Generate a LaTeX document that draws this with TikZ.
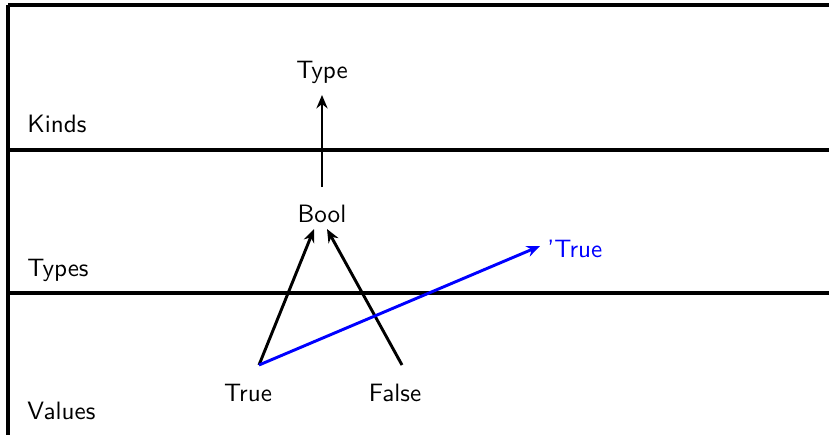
\documentclass[tikz,border=0pt]{standalone}
\usetikzlibrary{arrows.meta}
\begin{document}
\begin{tikzpicture}[x=0.41pt,y=-0.41pt,
  txt/.style={font=\sffamily\fontsize{10.3}{12}\selectfont, inner sep=0pt},
  lbl/.style={txt, anchor=base west},
  ctr/.style={txt, anchor=base},
  band/.style={line width=1.3pt},
  arr/.style={line width=1.2pt, -{Stealth[length=5.5pt,width=4.6pt,inset=1.8pt]}}]
\useasboundingbox (0,0) rectangle (829,434);
\clip (0,0) rectangle (829,434);
% frame and bands
\draw[band] (8,5) -- (840,5);
\draw[band] (8,5) -- (8,445);
\draw[band] (8,150) -- (840,150);
\draw[band] (8,293) -- (840,293);
% layer labels
\node[lbl] (kinds) at (27,132) {Kinds};
\node[lbl] (types) at (27,276) {Types};
\node[lbl] (values) at (27,419) {Values};
% terms
\node[ctr] (type) at (322,78) {Type};
\node[ctr] (bool) at (322,222) {Bool};
\node[ctr] (true) at (248,401) {True};
\node[ctr] (false) at (395,401) {False};
\node[lbl, text=blue] (ptrue) at (547,257) {'True};
% connector end points
\coordinate (typeIn) at (322,95);
\coordinate (boolOut) at (322,187);
\coordinate (boolInL) at (314,229);
\coordinate (boolInR) at (327,229);
\coordinate (trueOut) at (259,365);
\coordinate (falseOut) at (402,365);
\coordinate (ptrueIn) at (540,246);
% connectors
\draw[arr] (boolOut) -- (typeIn);
\draw[arr] (trueOut) -- (boolInL);
\draw[arr] (falseOut) -- (boolInR);
\draw[arr, blue] (trueOut) -- (ptrueIn);
\end{tikzpicture}
\end{document}
